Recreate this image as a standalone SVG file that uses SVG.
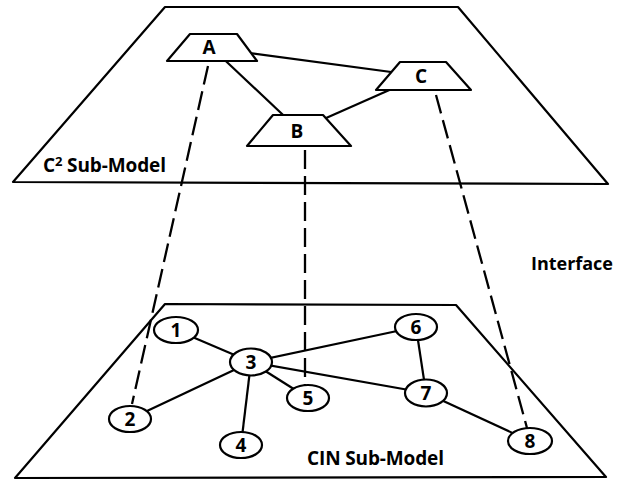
<svg xmlns="http://www.w3.org/2000/svg" width="618" height="482" viewBox="0 0 618 482">
  <style>
    .plane { fill: none; stroke: #000; stroke-width: 2.2; stroke-linejoin: round; }
    .edge { stroke: #000; stroke-width: 2.2; fill: none; }
    .link { stroke: #000; stroke-width: 2.3; fill: none; stroke-dasharray: 19 7; }
    .node { fill: #fff; stroke: #000; stroke-width: 2.2; stroke-linejoin: round; }
    text { font-family: "Open Sans", "Liberation Sans", sans-serif; font-weight: 700; fill: #000; }
    .lbl { font-size: 19px; text-anchor: middle; }
    .cap { font-size: 19px; }
  </style>
  <rect width="618" height="482" fill="#fff"/>

  <!-- upper plane -->
  <g id="c2-plane">
    <polygon class="plane" points="165,7 458,7 608,184 13,182"/>
    <text class="cap" x="43" y="172" textLength="123">C<tspan font-size="13" dy="-6">2</tspan><tspan dy="6"> Sub-Model</tspan></text>
  </g>

  <!-- lower plane -->
  <g id="cin-plane">
    <polygon class="plane" points="165,304 456,305 606,477 15,478"/>
    <text class="cap" x="307" y="465" textLength="137">CIN Sub-Model</text>
  </g>

  <text id="interface-label" x="531" y="270" font-size="18" textLength="82">Interface</text>

  <!-- connectors: solid edges within a plane, dashed links between planes -->
  <g id="connectors">
    <line class="edge" x1="212" y1="48" x2="421" y2="76"/>
    <line class="edge" x1="212" y1="48" x2="299" y2="130"/>
    <line class="edge" x1="299" y1="130" x2="421" y2="76"/>

    <line class="edge" x1="176" y1="330" x2="251" y2="362"/>
    <line class="edge" x1="251" y1="362" x2="130" y2="419"/>
    <line class="edge" x1="251" y1="362" x2="241" y2="445"/>
    <line class="edge" x1="251" y1="362" x2="308" y2="398"/>
    <line class="edge" x1="251" y1="362" x2="416" y2="327"/>
    <line class="edge" x1="251" y1="362" x2="426" y2="393"/>
    <line class="edge" x1="416" y1="327" x2="426" y2="393"/>
    <line class="edge" x1="426" y1="393" x2="530" y2="441"/>

    <line class="link" x1="208" y1="66" x2="132" y2="404"/>
    <line class="link" x1="305" y1="150" x2="305" y2="386"/>
    <line class="link" x1="436" y1="95" x2="527" y2="428"/>
  </g>

  <!-- C2 nodes -->
  <g id="node-A">
    <polygon class="node" points="190,34 237,34 257,61 167,61"/>
    <text class="lbl" x="209" y="54" font-size="18">A</text>
  </g>
  <g id="node-B">
    <polygon class="node" points="273,115 323,115 351,146 247,146"/>
    <text class="lbl" x="297" y="138" font-size="18">B</text>
  </g>
  <g id="node-C">
    <polygon class="node" points="400,62 446,62 471,90 376,90"/>
    <text class="lbl" x="421" y="83" font-size="18">C</text>
  </g>

  <!-- CIN nodes -->
  <g id="node-1">
    <ellipse class="node" cx="176" cy="330" rx="22" ry="13"/>
    <text class="lbl" x="176" y="337">1</text>
  </g>
  <g id="node-2">
    <ellipse class="node" cx="130" cy="419" rx="21" ry="13"/>
    <text class="lbl" x="130" y="426">2</text>
  </g>
  <g id="node-3">
    <ellipse class="node" cx="251" cy="362" rx="21" ry="13.5"/>
    <text class="lbl" x="251" y="369">3</text>
  </g>
  <g id="node-4">
    <ellipse class="node" cx="241" cy="445" rx="21" ry="13"/>
    <text class="lbl" x="241" y="452">4</text>
  </g>
  <g id="node-5">
    <ellipse class="node" cx="308" cy="398" rx="21" ry="13"/>
    <text class="lbl" x="308" y="405">5</text>
  </g>
  <g id="node-6">
    <ellipse class="node" cx="416" cy="327" rx="21" ry="13"/>
    <text class="lbl" x="416" y="334">6</text>
  </g>
  <g id="node-7">
    <ellipse class="node" cx="426" cy="393" rx="21" ry="13.5"/>
    <text class="lbl" x="426" y="400">7</text>
  </g>
  <g id="node-8">
    <ellipse class="node" cx="530" cy="441" rx="22" ry="13"/>
    <text class="lbl" x="530" y="448">8</text>
  </g>
</svg>
